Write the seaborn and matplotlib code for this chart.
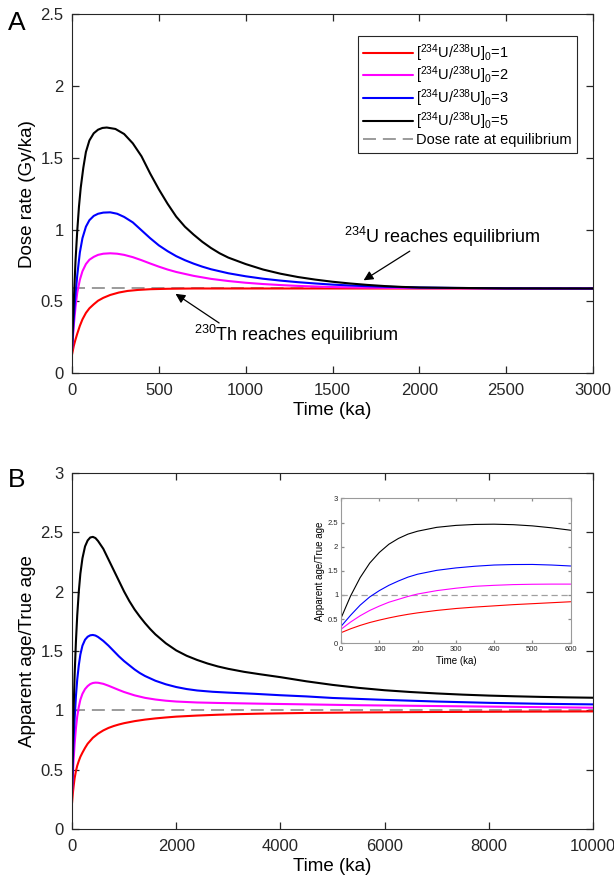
import matplotlib

matplotlib.use("Agg")

import matplotlib.pyplot as plt
import seaborn as sns
from matplotlib.ticker import FuncFormatter, MultipleLocator


# ---- panel A: dose rate (Gy/ka) vs time (ka) ----
a_t_k1 = [0, 10, 20, 30, 45, 60, 80, 100, 125, 150, 180, 220, 270, 320, 380, 450, 550, 700, 1000, 2000, 3000]
a_v_k1 = [0.13, 0.19, 0.235, 0.275, 0.33, 0.375, 0.42, 0.452, 0.48, 0.505, 0.525, 0.545, 0.562, 0.573, 0.58, 0.585, 0.588,
          0.59, 0.59, 0.59, 0.59]

a_t_k2 = [0, 10, 20, 30, 45, 60, 80, 100, 125, 150, 180, 220, 260, 300, 350, 400, 450, 500, 550, 600, 700, 800, 900,
          1000, 1100, 1200, 1300, 1400, 1500, 1700, 2000, 2500, 3000]
a_v_k2 = [0.16, 0.33, 0.46, 0.56, 0.65, 0.71, 0.76, 0.79, 0.81, 0.824, 0.832, 0.835, 0.832, 0.824, 0.808, 0.787, 0.764, 0.742,
          0.722, 0.705, 0.678, 0.657, 0.642, 0.63, 0.621, 0.614, 0.608, 0.604, 0.60, 0.596, 0.592, 0.59, 0.59]

a_t_k3 = [0, 10, 20, 30, 45, 60, 80, 100, 125, 150, 180, 220, 260, 300, 350, 400, 450, 500, 550, 600, 650, 700, 750, 800,
          900, 1000, 1100, 1200, 1300, 1400, 1500, 1600, 1700, 1800, 2000, 2200, 2500, 3000]
a_v_k3 = [0.17, 0.38, 0.55, 0.68, 0.84, 0.94, 1.02, 1.065, 1.095, 1.11, 1.118, 1.12, 1.11, 1.088, 1.05, 0.995, 0.94, 0.89,
          0.85, 0.815, 0.787, 0.763, 0.742, 0.724, 0.696, 0.675, 0.658, 0.645, 0.634, 0.625, 0.617, 0.611, 0.606, 0.602,
          0.597, 0.594, 0.591, 0.59]

a_t_k5 = [0, 10, 20, 30, 40, 50, 65, 80, 100, 125, 150, 175, 200, 250, 300, 350, 400, 450, 500, 550, 600, 650, 700, 750,
          800, 850, 900, 1000, 1100, 1200, 1300, 1400, 1500, 1600, 1700, 1800, 1900, 2000, 2200, 2500, 3000]
a_v_k5 = [0.18, 0.50, 0.78, 0.99, 1.16, 1.29, 1.43, 1.54, 1.62, 1.67, 1.695, 1.707, 1.71, 1.70, 1.665, 1.60, 1.51, 1.39,
          1.28, 1.18, 1.09, 1.02, 0.965, 0.915, 0.872, 0.835, 0.805, 0.76, 0.722, 0.693, 0.67, 0.652, 0.637, 0.625, 0.615,
          0.607, 0.601, 0.597, 0.594, 0.591, 0.59]

a_equilibrium = 0.59

# ---- panel B: apparent age / true age vs time (ka) ----
b_t_k1 = [0, 15, 30, 50, 75, 100, 130, 160, 200, 250, 300, 350, 400, 500, 600, 700, 800, 900, 1000, 1200, 1400, 1600,
          1800, 2000, 2400, 2800, 3200, 3600, 4500, 5500, 7000, 8500, 10000]
b_v_k1 = [0.22, 0.30, 0.36, 0.43, 0.49, 0.535, 0.575, 0.61, 0.645, 0.685, 0.72, 0.745, 0.77, 0.805, 0.832, 0.853, 0.869,
          0.882, 0.893, 0.91, 0.923, 0.933, 0.941, 0.948, 0.957, 0.964, 0.969, 0.973, 0.979, 0.983, 0.987, 0.99, 0.992]

b_t_k2 = [0, 15, 30, 50, 75, 100, 130, 160, 200, 250, 300, 350, 400, 450, 500, 600, 700, 800, 900, 1000, 1200, 1400,
          1600, 1800, 2000, 2400, 2800, 3200, 3600, 4500, 5500, 7000, 8500, 10000]
b_v_k2 = [0.30, 0.45, 0.58, 0.72, 0.85, 0.95, 1.03, 1.09, 1.14, 1.18, 1.205, 1.222, 1.231, 1.234, 1.233, 1.224, 1.208,
          1.19, 1.172, 1.155, 1.127, 1.106, 1.092, 1.082, 1.075, 1.067, 1.063, 1.06, 1.057, 1.051, 1.044, 1.037, 1.03, 1.023]

b_t_k3 = [0, 15, 30, 50, 75, 100, 130, 160, 200, 250, 300, 350, 400, 450, 500, 600, 700, 800, 900, 1000, 1100, 1200,
          1300, 1400, 1600, 1800, 2000, 2200, 2400, 2700, 3000, 3500, 4000, 4500, 5000, 5500, 6000, 7000, 8000, 9000, 10000]
b_v_k3 = [0.33, 0.56, 0.75, 0.93, 1.12, 1.26, 1.38, 1.47, 1.545, 1.595, 1.62, 1.632, 1.635, 1.63, 1.618, 1.585, 1.545,
          1.50, 1.455, 1.415, 1.38, 1.345, 1.315, 1.29, 1.25, 1.22, 1.197, 1.18, 1.168, 1.157, 1.15, 1.14, 1.128, 1.118,
          1.105, 1.097, 1.089, 1.075, 1.064, 1.056, 1.051]

b_t_k5 = [0, 15, 30, 50, 75, 100, 130, 160, 200, 250, 300, 350, 400, 450, 500, 600, 700, 800, 900, 1000, 1100, 1200,
          1300, 1400, 1500, 1600, 1800, 2000, 2200, 2400, 2600, 2800, 3000, 3300, 3600, 4000, 4500, 5000, 5500, 6000,
          6500, 7000, 7500, 8000, 8500, 9000, 9500, 10000]
b_v_k5 = [0.34, 0.72, 1.0, 1.30, 1.58, 1.80, 2.00, 2.15, 2.28, 2.38, 2.43, 2.455, 2.46, 2.45, 2.425, 2.36, 2.27, 2.18,
          2.09, 2.00, 1.92, 1.85, 1.79, 1.735, 1.685, 1.64, 1.565, 1.505, 1.46, 1.425, 1.395, 1.37, 1.35, 1.325, 1.305,
          1.28, 1.245, 1.215, 1.19, 1.17, 1.155, 1.143, 1.133, 1.125, 1.119, 1.114, 1.11, 1.107]

# ---- inset of panel B: first 600 ka ----
inset_t = [0, 25, 50, 75, 100, 125, 150, 175, 200, 250, 300, 350, 400, 450, 500, 550, 600]
inset_k1 = [0.22, 0.30, 0.37, 0.43, 0.48, 0.525, 0.565, 0.60, 0.63, 0.68, 0.72, 0.75, 0.775, 0.80, 0.82, 0.84, 0.86]
inset_k2 = [0.29, 0.44, 0.57, 0.68, 0.77, 0.85, 0.91, 0.97, 1.02, 1.09, 1.14, 1.18, 1.20, 1.215, 1.222, 1.225, 1.225]
inset_k3 = [0.35, 0.58, 0.79, 0.96, 1.09, 1.20, 1.29, 1.37, 1.43, 1.51, 1.56, 1.595, 1.62, 1.63, 1.632, 1.62, 1.60]
inset_k5 = [0.52, 0.98, 1.36, 1.66, 1.88, 2.05, 2.17, 2.26, 2.32, 2.40, 2.44, 2.46, 2.465, 2.455, 2.43, 2.39, 2.34]

ratio_labels = [
    r"[$\mathregular{^{234}}$U/$\mathregular{^{238}}$U]$\mathregular{_0}$=1",
    r"[$\mathregular{^{234}}$U/$\mathregular{^{238}}$U]$\mathregular{_0}$=2",
    r"[$\mathregular{^{234}}$U/$\mathregular{^{238}}$U]$\mathregular{_0}$=3",
    r"[$\mathregular{^{234}}$U/$\mathregular{^{238}}$U]$\mathregular{_0}$=5",
]
ratio_colors = ["#FF0000", "#FF00FF", "#0000FF", "#000000"]
EQ_COLOR = "#808080"
SPINE = "#262626"


def set_theme() -> None:
    sns.set_theme(style="ticks")
    plt.rcParams.update(
        {
            "font.family": ["Liberation Sans", "DejaVu Sans"],
            "mathtext.fontset": "custom",
            "mathtext.rm": "Liberation Sans",
            "mathtext.it": "Liberation Sans:italic",
            "mathtext.bf": "Liberation Sans:bold",
            "axes.edgecolor": SPINE,
            "axes.linewidth": 0.8,
            "axes.labelcolor": "#000000",
            "xtick.color": SPINE,
            "ytick.color": SPINE,
            "xtick.direction": "in",
            "ytick.direction": "in",
            "xtick.top": True,
            "ytick.right": True,
            "text.color": "#000000",
        }
    )


def fmt_g(value: float, _pos: float) -> str:
    return f"{value:g}"


def style_axes(ax, tick_size, tick_len, xpad, ypad) -> None:
    for s in ax.spines.values():
        s.set_visible(True)
    ax.tick_params(axis="both", which="major", direction="in", bottom=True, left=True, top=True, right=True,
                   length=tick_len, width=0.9, labelsize=tick_size)
    ax.tick_params(axis="x", pad=xpad)
    ax.tick_params(axis="y", pad=ypad)
    ax.xaxis.set_major_formatter(FuncFormatter(fmt_g))
    ax.yaxis.set_major_formatter(FuncFormatter(fmt_g))


def draw_curves(ax, curves, lw) -> None:
    for (t, v), color, label in zip(curves, ratio_colors, ratio_labels):
        sns.lineplot(x=t, y=v, color=color, linewidth=lw, ax=ax, legend=False, label=label)


def arrow(ax, head, tail) -> None:
    ax.annotate("", xy=head, xytext=tail,
                arrowprops=dict(arrowstyle="-|>", color="black", lw=0.9, mutation_scale=14,
                                shrinkA=0, shrinkB=0))


def main() -> None:
    set_theme()
    fig = plt.figure(figsize=(6.14, 8.85), dpi=100)

    # panel A
    ax_a = fig.add_axes([0.1173, 0.5782, 0.8485, 0.4060])
    draw_curves(ax_a, [(a_t_k1, a_v_k1), (a_t_k2, a_v_k2), (a_t_k3, a_v_k3), (a_t_k5, a_v_k5)], 1.5)
    ax_a.axhline(a_equilibrium, color=EQ_COLOR, lw=1.1, dashes=(8.5, 4.5), label="Dose rate at equilibrium", zorder=1)
    ax_a.set_xlim(0, 3000)
    ax_a.set_ylim(0, 2.5)
    ax_a.xaxis.set_major_locator(MultipleLocator(500))
    ax_a.yaxis.set_major_locator(MultipleLocator(0.5))
    style_axes(ax_a, 12, 5, 7, 6)
    ax_a.set_xlabel("Time (ka)", fontsize=13.5, labelpad=3)
    ax_a.set_ylabel("Dose rate (Gy/ka)", fontsize=13.5, labelpad=3)
    handles = ax_a.get_lines()
    ax_a.legend(handles=handles, labels=[h.get_label() for h in handles], loc="upper right",
                bbox_to_anchor=(0.97, 0.938), fontsize=10.5, frameon=True, fancybox=False,
                edgecolor=SPINE, framealpha=1, handlelength=3.4, handletextpad=0.2,
                labelspacing=0.08, borderpad=0.4, borderaxespad=0)
    ax_a.legend_.get_frame().set_linewidth(0.8)

    ax_a.text(2131, 0.946, r"$\mathregular{^{234}}$U reaches equilibrium", ha="center", va="center", fontsize=13)
    arrow(ax_a, (1679, 0.647), (1945, 0.85))
    ax_a.text(1291, 0.27, r"$\mathregular{^{230}}$Th reaches equilibrium", ha="center", va="center", fontsize=13)
    arrow(ax_a, (596, 0.553), (847, 0.35))

    # panel B
    ax_b = fig.add_axes([0.1173, 0.0629, 0.8485, 0.4030])
    draw_curves(ax_b, [(b_t_k1, b_v_k1), (b_t_k2, b_v_k2), (b_t_k3, b_v_k3), (b_t_k5, b_v_k5)], 1.5)
    ax_b.axhline(1.0, color=EQ_COLOR, lw=1.1, dashes=(8.5, 4.5), zorder=1)
    ax_b.set_xlim(0, 10000)
    ax_b.set_ylim(0, 3)
    ax_b.xaxis.set_major_locator(MultipleLocator(2000))
    ax_b.yaxis.set_major_locator(MultipleLocator(0.5))
    style_axes(ax_b, 12, 5, 7, 6)
    ax_b.set_xlabel("Time (ka)", fontsize=13.5, labelpad=3)
    ax_b.set_ylabel("Apparent age/True age", fontsize=13.5, labelpad=3)

    # inset
    ax_in = fig.add_axes([0.5554, 0.2731, 0.3741, 0.1638])
    draw_curves(ax_in, [(inset_t, inset_k1), (inset_t, inset_k2), (inset_t, inset_k3), (inset_t, inset_k5)], 0.8)
    ax_in.axhline(1.0, color="#A0A0A0", lw=0.9, dashes=(5, 3), zorder=1)
    ax_in.set_xlim(0, 600)
    ax_in.set_ylim(0, 3)
    ax_in.xaxis.set_major_locator(MultipleLocator(100))
    ax_in.yaxis.set_major_locator(MultipleLocator(0.5))
    style_axes(ax_in, 5.5, 2.5, 2, 2)
    ax_in.tick_params(colors="#8c8c8c", labelcolor="#262626")
    for s in ax_in.spines.values():
        s.set_color("#9a9a9a")
    ax_in.set_xlabel("Time (ka)", fontsize=7, labelpad=2)
    ax_in.set_ylabel("Apparent age/True age", fontsize=7, labelpad=2)

    fig.text(0.013, 0.988, "A", fontsize=19, va="top", ha="left")
    fig.text(0.013, 0.471, "B", fontsize=19, va="top", ha="left")

    fig.savefig("out.png", dpi=100, facecolor="white")
    plt.close(fig)


if __name__ == "__main__":
    main()
